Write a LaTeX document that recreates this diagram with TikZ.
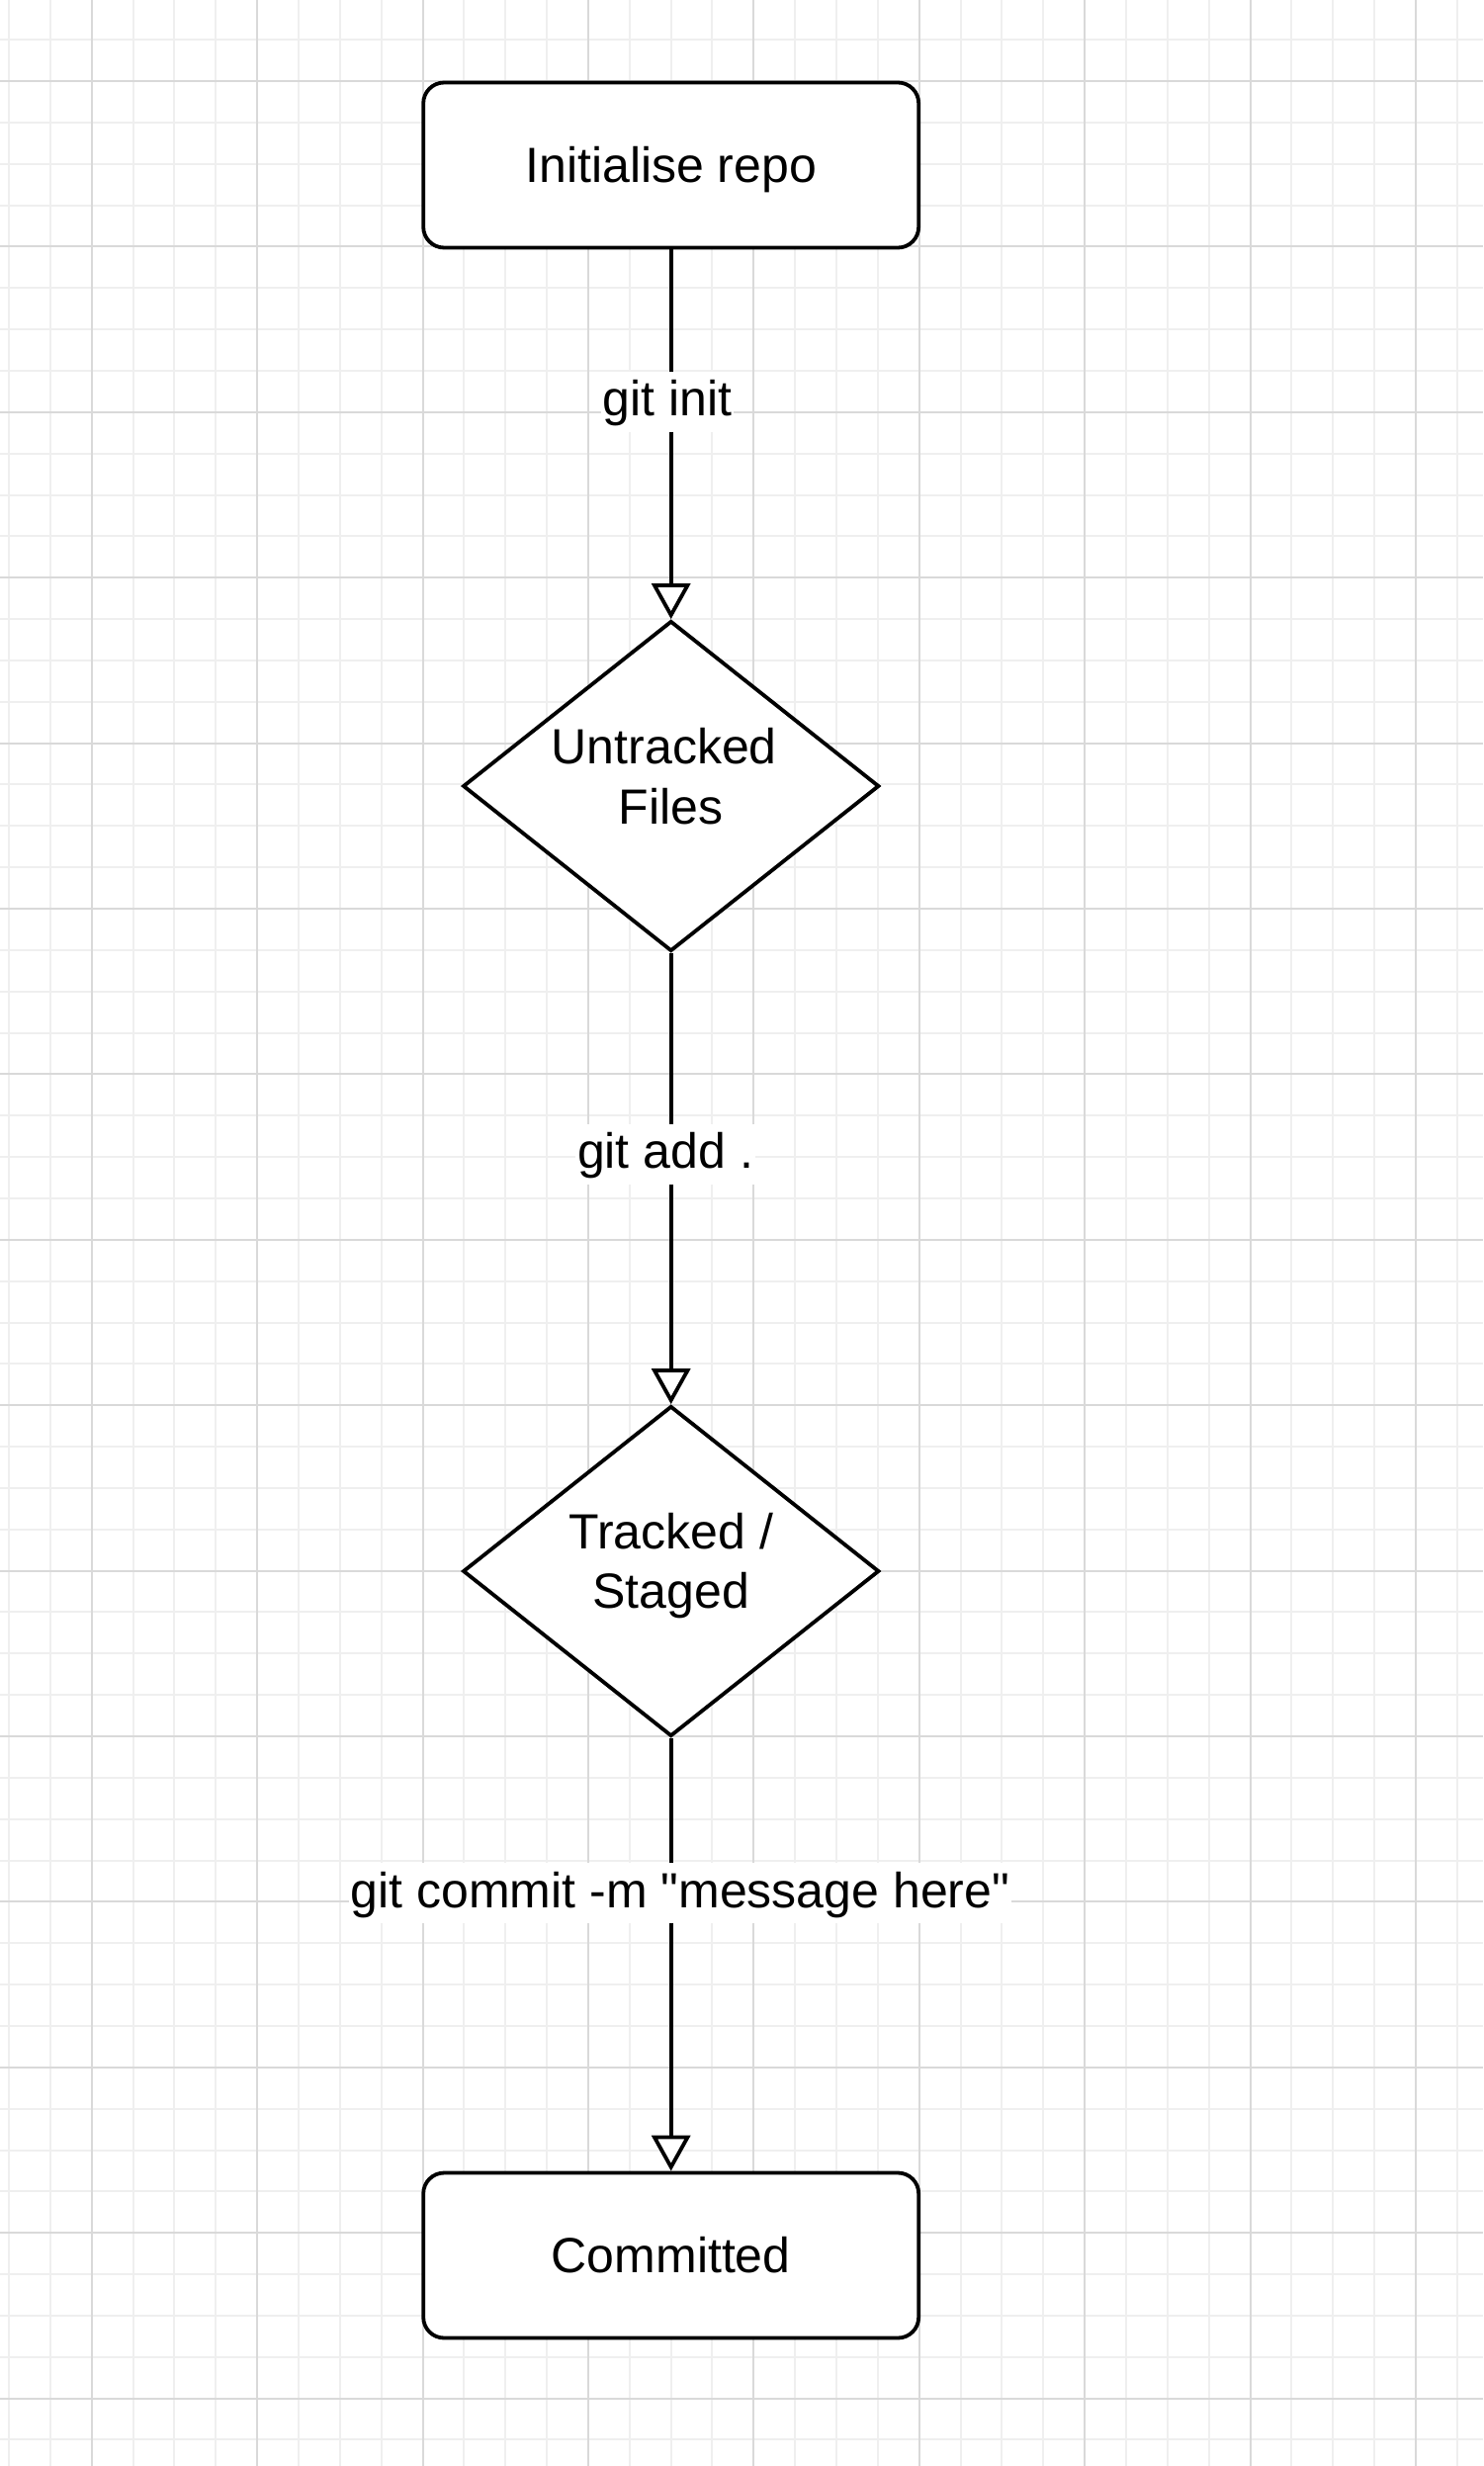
\documentclass[tikz,border=0pt]{standalone}
\usepackage{fontspec}
\setmainfont{Liberation Sans}
\newfontfamily\rawfont{Liberation Sans}
\usetikzlibrary{shapes.geometric,arrows.meta}
\definecolor{gridminor}{HTML}{EFEFEF}
\definecolor{gridmajor}{HTML}{D9D9D9}
\begin{document}
\begin{tikzpicture}[x=0.5pt,y=-0.5pt,
  minorline/.style={draw=gridminor,line width=1pt},
  majorline/.style={draw=gridmajor,line width=1pt},
  labelfont/.style={font=\rawfont\fontsize{25pt}{30.3pt}\selectfont},
  statebox/.style={draw=black,fill=white,line width=1.9pt,rounded corners=10.5pt,
    minimum width=250.5pt,minimum height=83.5pt,inner sep=0pt,
    text height=17.9pt,text depth=0pt,labelfont},
  decision/.style={diamond,draw=black,fill=white,line width=1.9pt,
    minimum width=210.5pt,minimum height=167pt,inner sep=0pt},
  dtext/.style={align=center,inner sep=0pt,labelfont},
  flow/.style={draw=black,line width=1.9pt,-{Triangle[length=18pt,width=19.5pt,fill=white]}},
  edgelabel/.style={fill=white,inner xsep=1pt,inner ysep=4pt,text height=18.5pt,
    text depth=4pt,anchor=base,labelfont}]
\useasboundingbox (0,0) rectangle (1500,2494);
\fill[white] (0,0) rectangle (1500,2494);
% grid
\foreach \k in {0,...,35} { \draw[minorline] ({9+41.85*\k},0) -- ({9+41.85*\k},2494); }
\foreach \k in {0,...,59} { \draw[minorline] (0,{-1.7+41.85*\k}) -- (1500,{-1.7+41.85*\k}); }
\foreach \k in {0,...,8} { \draw[majorline] ({92.7+167.4*\k},0) -- ({92.7+167.4*\k},2494); }
\foreach \k in {0,...,14} { \draw[majorline] (0,{82+167.4*\k}) -- (1500,{82+167.4*\k}); }
% nodes
\node[statebox] (init) at (678.7,167) {Initialise repo};
\node[decision] (untracked) at (678.7,795) {};
\node[dtext] (untrackedtext) at (678.7,785.3) {Untracked\hspace*{0.28em}\\Files};
\node[decision] (staged) at (678.7,1589) {};
\node[dtext] (stagedtext) at (678.7,1583.5) {Tracked /\\Staged};
\node[statebox] (committed) at (678.7,2281) {Committed};
% connectors
\draw[flow] (init) -- (untracked);
\draw[flow] (untracked) -- (staged);
\draw[flow] (staged) -- (committed);
% connector labels
\node[edgelabel] (initlabel) at (675,420.7) {git init};
\node[edgelabel] (addlabel) at (673,1181.7) {git add .};
\node[edgelabel] (commitlabel) at (688,1929) {git commit -m "message here"};
\end{tikzpicture}
\end{document}
